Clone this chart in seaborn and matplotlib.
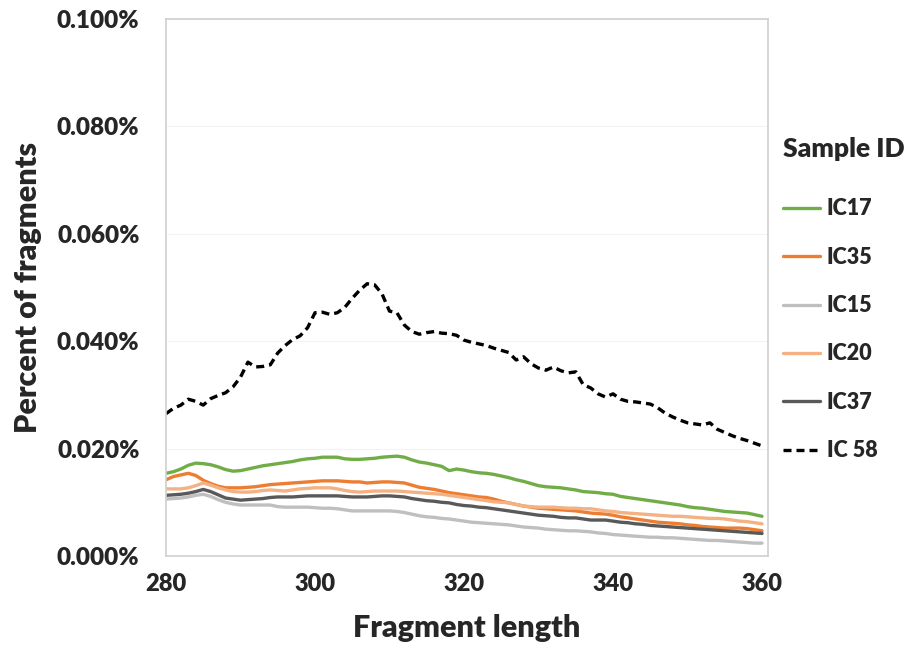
import numpy as np
import pandas as pd
import seaborn as sns
import matplotlib.pyplot as plt
from matplotlib.ticker import FuncFormatter, MultipleLocator

# Fragment lengths (x axis)
lengths = list(range(280, 361))

# Percent of fragments, in thousandths of a percent (15.4 -> 0.0154%)
ic17 = [15.4, 15.7, 16.2, 16.9, 17.3, 17.2, 17.0, 16.6, 16.1, 15.8,
        15.9, 16.2, 16.5, 16.8, 17.0, 17.2, 17.4, 17.6, 17.9, 18.1,
        18.2, 18.4, 18.4, 18.4, 18.1, 18.0, 18.0, 18.1, 18.2, 18.4,
        18.5, 18.6, 18.4, 17.9, 17.5, 17.3, 17.0, 16.7, 15.9, 16.2,
        16.0, 15.7, 15.5, 15.4, 15.2, 14.9, 14.6, 14.2, 13.9, 13.5,
        13.1, 12.9, 12.8, 12.7, 12.5, 12.3, 12.0, 11.9, 11.8, 11.6,
        11.5, 11.1, 10.9, 10.7, 10.5, 10.3, 10.1, 9.9, 9.7, 9.5,
        9.2, 9.0, 8.9, 8.7, 8.5, 8.3, 8.2, 8.1, 8.0, 7.7, 7.4]
ic35 = [14.2, 14.8, 15.1, 15.4, 15.0, 14.1, 13.5, 13.0, 12.7, 12.7,
        12.7, 12.8, 12.9, 13.1, 13.3, 13.4, 13.5, 13.6, 13.7, 13.8,
        13.9, 14.0, 14.0, 14.0, 13.9, 13.8, 13.8, 13.6, 13.7, 13.8,
        13.8, 13.7, 13.6, 13.2, 12.8, 12.6, 12.4, 12.1, 11.8, 11.6,
        11.4, 11.2, 11.0, 10.9, 10.6, 10.2, 9.9, 9.6, 9.3, 9.1,
        8.9, 8.8, 8.7, 8.6, 8.5, 8.4, 8.2, 8.0, 7.9, 7.8,
        7.6, 7.3, 7.1, 6.9, 6.7, 6.5, 6.3, 6.2, 6.1, 6.0,
        5.8, 5.7, 5.5, 5.4, 5.3, 5.2, 5.2, 5.2, 5.1, 4.9, 4.7]
ic15 = [10.6, 10.7, 10.8, 11.0, 11.3, 11.5, 11.1, 10.5, 10.0, 9.7,
        9.5, 9.5, 9.5, 9.5, 9.5, 9.2, 9.1, 9.1, 9.1, 9.1,
        9.0, 8.9, 8.9, 8.8, 8.6, 8.4, 8.4, 8.4, 8.4, 8.4,
        8.4, 8.3, 8.1, 7.8, 7.5, 7.3, 7.2, 7.0, 6.9, 6.7,
        6.5, 6.3, 6.2, 6.1, 6.0, 5.9, 5.8, 5.6, 5.4, 5.3,
        5.2, 5.0, 4.9, 4.8, 4.7, 4.7, 4.6, 4.5, 4.3, 4.2,
        4.0, 3.9, 3.8, 3.7, 3.6, 3.5, 3.5, 3.4, 3.4, 3.3,
        3.2, 3.1, 3.0, 2.9, 2.9, 2.8, 2.7, 2.6, 2.5, 2.4, 2.4]
ic20 = [12.5, 12.5, 12.5, 12.7, 13.1, 13.6, 13.2, 12.7, 12.3, 12.0,
        11.9, 11.9, 12.0, 12.2, 12.3, 12.2, 12.1, 12.3, 12.5, 12.6,
        12.7, 12.7, 12.7, 12.5, 12.2, 12.0, 11.9, 12.0, 12.1, 12.1,
        12.1, 12.1, 12.0, 11.9, 11.8, 11.7, 11.6, 11.5, 11.3, 11.1,
        10.9, 10.7, 10.5, 10.3, 10.1, 10.0, 9.9, 9.6, 9.3, 9.2,
        9.1, 9.1, 9.1, 9.0, 8.9, 8.9, 8.8, 8.8, 8.6, 8.4,
        8.3, 8.1, 8.0, 7.9, 7.8, 7.7, 7.6, 7.5, 7.4, 7.4,
        7.3, 7.2, 7.1, 7.0, 7.0, 6.9, 6.7, 6.5, 6.4, 6.2, 6.0]
ic37 = [11.3, 11.4, 11.5, 11.7, 12.0, 12.4, 12.0, 11.4, 10.8, 10.6,
        10.4, 10.5, 10.6, 10.7, 10.9, 11.0, 11.0, 11.0, 11.1, 11.2,
        11.2, 11.2, 11.2, 11.2, 11.1, 11.0, 11.0, 11.0, 11.1, 11.2,
        11.2, 11.1, 11.0, 10.7, 10.5, 10.3, 10.2, 10.0, 9.9, 9.6,
        9.4, 9.3, 9.1, 9.0, 8.8, 8.6, 8.4, 8.2, 8.0, 7.8,
        7.6, 7.5, 7.4, 7.2, 7.1, 7.1, 6.9, 6.7, 6.7, 6.7,
        6.5, 6.3, 6.2, 6.0, 5.9, 5.7, 5.6, 5.5, 5.4, 5.3,
        5.2, 5.1, 5.0, 4.9, 4.8, 4.7, 4.6, 4.5, 4.4, 4.3, 4.2]
ic58 = [26.5, 27.5, 28.1, 29.2, 28.8, 28.1, 29.3, 29.9, 30.4, 31.5,
        33.3, 36.1, 35.2, 35.3, 35.6, 37.8, 39.2, 40.3, 41.0, 42.5,
        45.3, 45.4, 45.0, 45.3, 46.3, 48.0, 49.5, 50.7, 50.5, 48.8,
        45.6, 45.3, 43.0, 41.8, 41.3, 41.6, 41.8, 41.5, 41.4, 41.1,
        40.2, 39.8, 39.5, 39.2, 38.7, 38.3, 37.9, 36.5, 37.1, 35.8,
        35.0, 34.6, 35.2, 34.5, 34.1, 34.3, 31.9, 31.3, 30.2, 29.6,
        30.2, 29.2, 28.8, 28.7, 28.5, 28.3, 27.6, 26.6, 25.9, 25.3,
        24.8, 24.6, 24.4, 24.8, 23.6, 23.0, 22.4, 21.9, 21.5, 21.0, 20.5]

samples = ["IC17", "IC35", "IC15", "IC20", "IC37", "IC 58"]
series = [ic17, ic35, ic15, ic20, ic37, ic58]
colors = ["#70AD47", "#ED7D31", "#BFBFBF", "#F4B183", "#595959", "#000000"]

df = pd.concat(
    [pd.DataFrame({"length": lengths, "pct": vals, "sample": name})
     for name, vals in zip(samples, series)],
    ignore_index=True,
)

sns.set_theme(style="white")
plt.rcParams["font.family"] = ["Lato", "DejaVu Sans"]
W = "heavy"

fig = plt.figure(figsize=(9.05, 6.52), dpi=100)
ax = fig.add_axes([0.1834, 0.1472, 0.6652, 0.8237])

dash_map = {s: "" for s in samples}
dash_map["IC 58"] = (2.4, 1.5)

sns.lineplot(
    data=df, x="length", y="pct",
    hue="sample", hue_order=samples, palette=dict(zip(samples, colors)),
    style="sample", style_order=samples, dashes=dash_map,
    linewidth=2.4, ax=ax,
)

ax.set_xlim(280, 360.8)
ax.set_ylim(0, 100)
ax.xaxis.set_major_locator(MultipleLocator(20))
ax.yaxis.set_major_locator(MultipleLocator(20))
ax.yaxis.set_major_formatter(FuncFormatter(lambda v, p: f"{v / 1000:.3f}%"))

ax.grid(axis="y", color="#f3f3f3", linewidth=0.8)
for sp in ax.spines.values():
    sp.set_color("#d0d0d0")
    sp.set_linewidth(1.2)

ax.tick_params(axis="x", direction="in", length=8, color="#d0d0d0",
               width=1.0, pad=12, labelsize=17)
ax.tick_params(axis="y", length=0, pad=19, labelsize=17.5)
for lab in ax.get_xticklabels() + ax.get_yticklabels():
    lab.set_fontweight(W)

ax.set_xlabel("Fragment length", fontsize=22, fontweight=W, labelpad=14)
ax.set_ylabel("Percent of fragments", fontsize=22, fontweight=W, labelpad=11)

handles, labels = ax.get_legend_handles_labels()
leg = ax.legend(
    handles, labels, title="Sample ID", frameon=False,
    loc="upper left", bbox_to_anchor=(0.865, 0.79), bbox_transform=fig.transFigure,
    fontsize=15.5, title_fontsize=19, handlelength=1.75, handletextpad=0.3,
    labelspacing=1.27, alignment="left", borderaxespad=0, borderpad=0,
)
leg.get_title().set_fontweight(W)
for t in leg.get_texts():
    t.set_fontweight(W)
leg._legend_box.sep = 27

fig.savefig("out.png", dpi=100)
